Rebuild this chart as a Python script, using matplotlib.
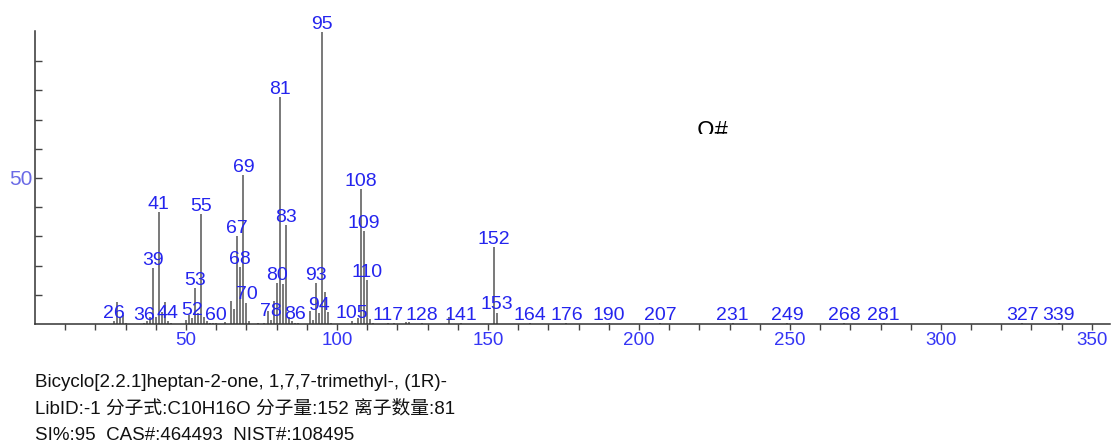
import numpy as np
import matplotlib
matplotlib.use("Agg")
import matplotlib.pyplot as plt
from matplotlib.transforms import Bbox, TransformedBbox

plt.rcParams['font.family'] = ['Liberation Sans', 'Noto Sans CJK SC', 'DejaVu Sans']

# m/z and relative intensity (%)
mz = [26, 27, 28, 29, 30, 36, 37, 38, 39, 40, 41, 42, 43, 44, 45,
      50, 51, 52, 53, 54, 55, 56, 57, 58, 59, 60, 63, 65, 66, 67, 68, 69, 70, 71,
      74, 76, 77, 78, 79, 80, 81, 82, 83, 84, 85, 86, 87,
      91, 92, 93, 94, 95, 96, 97, 98, 105, 106, 107, 108, 109, 110, 111, 112,
      117, 119, 123, 124, 128, 137, 141, 152, 153,
      164, 176, 190, 207, 231, 249, 268, 281, 327, 339]
inten = [1.0, 7.4, 2.5, 3.0, 0.5, 0.3, 1.0, 2.5, 19.0, 2.5, 38.2, 4.2, 7.4, 1.0, 0.3,
         1.4, 3.0, 2.0, 12.2, 3.7, 37.6, 2.5, 1.0, 0.5, 0.5, 0.3, 0.8, 8.0, 5.0, 30.1, 19.4, 50.9, 7.3, 1.0,
         0.5, 0.5, 4.5, 1.5, 8.0, 14.1, 77.7, 13.6, 33.8, 2.5, 1.0, 0.5, 0.3,
         4.5, 1.5, 14.1, 3.8, 100.0, 10.8, 4.2, 0.5, 1.0, 0.5, 1.9, 46.2, 31.8, 14.9, 1.6, 0.3,
         0.3, 0.5, 0.8, 0.8, 0.3, 2.3, 0.3, 26.4, 3.9,
         0.2, 0.2, 0.2, 0.2, 0.2, 0.2, 0.2, 0.2, 0.2, 0.2]

# peaks that carry an m/z label
labeled = [26, 36, 39, 41, 44, 52, 53, 55, 60, 67, 68, 69, 70, 78, 80, 81, 83, 86,
           93, 94, 95, 105, 108, 109, 110, 117, 128, 141, 152, 153,
           164, 176, 190, 207, 231, 249, 268, 281, 327, 339]

info = ["Bicyclo[2.2.1]heptan-2-one, 1,7,7-trimethyl-, (1R)-",
        "LibID:-1 分子式:C10H16O 分子量:152 离子数量:81",
        "SI%:95  CAS#:464493  NIST#:108495"]
info_baseline = [387, 413, 440]

blue = '#2424ee'
W, H = 1113, 444
fig = plt.figure(figsize=(W / 100, H / 100), dpi=100)
ax = fig.add_axes([35 / W, 1 - 324 / H, (1110 - 35) / W, (324 - 31) / H])

ax.vlines(mz, 0, inten, color='#555555', linewidth=1.1)

peaks = dict(zip(mz, inten))
for m in labeled:
    ax.annotate(str(m), (m, peaks[m]), xytext=(0, 2.3), textcoords='offset points',
                ha='center', va='baseline', fontsize=14, color=blue)

ax.set_xlim(0, 356)
ax.set_ylim(0, 100.3)
for s in ['top', 'right']:
    ax.spines[s].set_visible(False)
for s in ['left', 'bottom']:
    ax.spines[s].set_color('#333333')
    ax.spines[s].set_linewidth(1.1)

ax.set_xticks(np.arange(10, 360, 10))
ax.set_xticklabels([str(v) if v % 50 == 0 else '' for v in range(10, 360, 10)])
ax.tick_params(axis='x', direction='out', length=4, width=1, color='#444444',
               labelsize=13.5, labelcolor='#3535f5', pad=2)
ax.set_yticks(np.arange(10, 100, 10))
ax.set_yticklabels(['50' if v == 50 else '' for v in range(10, 100, 10)])
ax.tick_params(axis='y', direction='in', length=5, width=1, color='#444444',
               labelsize=15, labelcolor='#6a6ae6', pad=2)

t = fig.text(697 / W, 1 - 121 / H, 'Ω#', fontsize=17, color='black', va='top', ha='left')
t.set_clip_box(TransformedBbox(Bbox.from_extents(0.5, 1 - 134 / H, 0.8, 1), fig.transFigure))
t.set_clip_on(True)

for line, yb in zip(info, info_baseline):
    fig.text(35 / W, 1 - yb / H, line, fontsize=13.5, color='#111111',
             va='baseline', ha='left')

fig.savefig("out.png", dpi=100)
